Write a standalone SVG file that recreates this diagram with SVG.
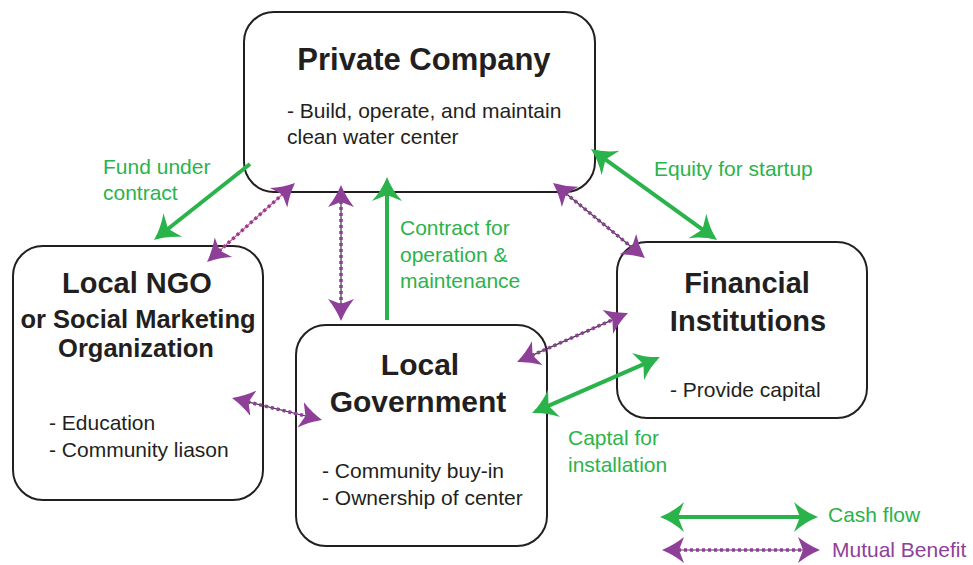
<svg xmlns="http://www.w3.org/2000/svg" width="973" height="565" viewBox="0 0 973 565">
<style>
.box{fill:#fff;stroke:#231f20;stroke-width:2}
.t{font-family:"Liberation Sans",Arial,sans-serif;font-weight:bold;fill:#231f20;text-anchor:middle}
.b{font-family:"Liberation Sans",Arial,sans-serif;font-size:21px;fill:#231f20}
.g{font-family:"Liberation Sans",Arial,sans-serif;font-size:21px;fill:#2bb34b}
.p{font-family:"Liberation Sans",Arial,sans-serif;font-size:21px;fill:#8e3f98}
.cash{stroke:#2bb34b;stroke-width:4;fill:none}
.mb{stroke:#3a3a3a;stroke-width:1.2;fill:none}
.mbd{stroke:#8e3f98;stroke-width:3.5;stroke-dasharray:3 3;fill:none}
</style>
<defs>
<marker id="gh" markerUnits="userSpaceOnUse" markerWidth="26" markerHeight="32" refX="20" refY="16" orient="auto-start-reverse" viewBox="0 0 26 32">
<path d="M24,16 Q11,11 0,1 L6,16 L0,31 Q11,21 24,16 Z" fill="#2bb34b"/>
</marker>
<marker id="ph" markerUnits="userSpaceOnUse" markerWidth="24" markerHeight="28" refX="18" refY="14" orient="auto-start-reverse" viewBox="0 0 24 28">
<path d="M22,14 Q10,9 0,1 L5,14 L0,27 Q10,19 22,14 Z" fill="#8e3f98"/>
</marker>
</defs>
<rect width="973" height="565" fill="#fff"/>

<g id="private-company">
<rect class="box" x="244" y="12" width="351" height="180" rx="30"/>
<text class="t" x="424" y="70" font-size="31">Private Company</text>
<text class="b" x="287" y="118">- Build, operate, and maintain</text>
<text class="b" x="287" y="144">clean water center</text>
</g>

<g id="local-ngo">
<rect class="box" x="13" y="246" width="250" height="254" rx="30"/>
<text class="t" x="137" y="293" font-size="29">Local NGO</text>
<text class="t" x="138" y="328" font-size="25.5">or Social Marketing</text>
<text class="t" x="136" y="357" font-size="25.5">Organization</text>
<text class="b" x="49" y="430">- Education</text>
<text class="b" x="49" y="457">- Community liason</text>
</g>

<g id="local-government">
<rect class="box" x="296" y="325" width="251" height="221" rx="30"/>
<text class="t" x="420" y="375" font-size="30">Local</text>
<text class="t" x="418" y="412" font-size="30">Government</text>
<text class="b" x="322" y="478">- Community buy-in</text>
<text class="b" x="322" y="505">- Ownership of center</text>
</g>

<g id="financial-institutions">
<rect class="box" x="617" y="242" width="250" height="176" rx="30"/>
<text class="t" x="747" y="293" font-size="29">Financial</text>
<text class="t" x="748" y="331" font-size="29">Institutions</text>
<text class="b" x="670" y="397">- Provide capital</text>
</g>

<g id="connectors">
<line class="cash" x1="250" y1="164" x2="157.1" y2="237.5" marker-end="url(#gh)"/>
<line class="cash" x1="594.2" y1="151.3" x2="713.8" y2="237.7" marker-start="url(#gh)" marker-end="url(#gh)"/>
<line class="cash" x1="387" y1="320" x2="387" y2="181" marker-end="url(#gh)"/>
<line class="cash" x1="535.7" y1="411.4" x2="656.3" y2="358.6" marker-start="url(#gh)" marker-end="url(#gh)"/>

<line class="mb" x1="210" y1="259.3" x2="292" y2="185.7" style="stroke:#e8506a" marker-start="url(#ph)" marker-end="url(#ph)"/>
<line class="mbd" x1="210" y1="259.3" x2="292" y2="185.7"/>
<line class="mb" x1="341" y1="189" x2="341" y2="317" marker-start="url(#ph)" marker-end="url(#ph)"/>
<line class="mbd" x1="341" y1="189" x2="341" y2="317"/>
<line class="mb" x1="556.1" y1="185.5" x2="641.9" y2="255.5" marker-start="url(#ph)" marker-end="url(#ph)"/>
<line class="mbd" x1="556.1" y1="185.5" x2="641.9" y2="255.5"/>
<line class="mb" x1="520.7" y1="360.4" x2="624.3" y2="314.6" marker-start="url(#ph)" marker-end="url(#ph)"/>
<line class="mbd" x1="520.7" y1="360.4" x2="624.3" y2="314.6"/>
<line class="mb" x1="235.9" y1="399" x2="318.1" y2="419" marker-start="url(#ph)" marker-end="url(#ph)"/>
<line class="mbd" x1="235.9" y1="399" x2="318.1" y2="419"/>

<text class="g" x="103" y="174">Fund under</text>
<text class="g" x="103" y="200">contract</text>
<text class="g" x="654" y="176">Equity for startup</text>
<text class="g" x="400" y="235">Contract for</text>
<text class="g" x="400" y="262">operation &amp;</text>
<text class="g" x="400" y="288">maintenance</text>
<text class="g" x="568" y="445">Captal for</text>
<text class="g" x="568" y="472">installation</text>
</g>

<g id="legend">
<line class="cash" x1="664" y1="517" x2="814" y2="517" marker-start="url(#gh)" marker-end="url(#gh)"/>
<text class="g" x="828" y="522">Cash flow</text>
<line class="mb" x1="666" y1="550" x2="816" y2="550" marker-start="url(#ph)" marker-end="url(#ph)"/>
<line class="mbd" x1="666" y1="550" x2="816" y2="550"/>
<text class="p" x="832" y="557">Mutual Benefit</text>
</g>
</svg>
